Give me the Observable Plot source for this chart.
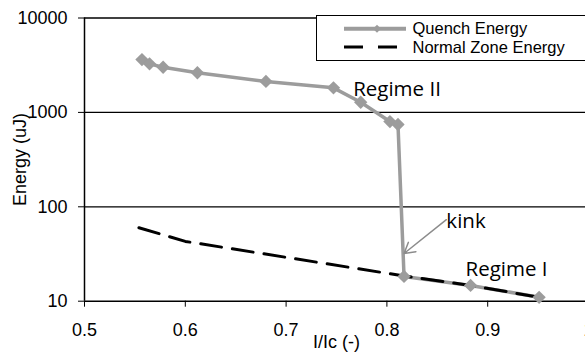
<!DOCTYPE html>
<html><head><meta charset="utf-8">
<script src="https://cdn.jsdelivr.net/npm/d3@7"></script>
<script src="https://cdn.jsdelivr.net/npm/@observablehq/plot@0.6"></script>
<style>
html,body{margin:0;padding:0;background:#fff;}
#wrap{position:relative;width:585px;height:353px;overflow:hidden;}
#legend{position:absolute;left:316px;top:15px;width:300px;height:44px;border:1px solid #000;background:#fff;}
#legend svg{position:absolute;left:0;top:0;}
</style></head><body>
<div id="wrap"><div id="legend">
<svg width="300" height="46" font-family="Liberation Sans, Arial, sans-serif" font-size="16.5">
<line x1="27" x2="89" y1="12.7" y2="12.7" stroke="#9c9c9c" stroke-width="4"/>
<path d="M60,8.7L64,12.7L60,16.7L56,12.7Z" fill="#9c9c9c"/>
<line x1="27" x2="83" y1="31" y2="31" stroke="#000" stroke-width="3" stroke-dasharray="19 15"/>
<text x="95.5" y="18.3">Quench Energy</text>
<text x="95.5" y="37.3">Normal Zone Energy</text>
</svg></div></div>
<script>
// Quench energy (uJ) vs I/Ic
const quenchX = [0.557, 0.5645, 0.578, 0.612, 0.680, 0.747, 0.774, 0.803, 0.811, 0.817, 0.883, 0.951];
const quenchY = [3630, 3270, 3010, 2630, 2130, 1820, 1280, 800, 745, 18.3, 14.7, 11.0];
// Normal zone energy (uJ)
const normalX = [0.554, 0.600, 0.817, 0.883, 0.951];
const normalY = [60, 43, 18.5, 14.7, 11.0];
// tick labels
const xTicks = [0.5, 0.6, 0.7, 0.8, 0.9, 1];
const yTicks = [10, 100, 1000, 10000];
const yGrid = [100, 1000, 10000];
// annotations (data coordinates)
const noteText = ["Regime II", "kink", "Regime I"];
const noteX = [0.7665, 0.859, 0.878];
const noteY = [1510, 60, 18.7];
const arrowFrom = {x: 0.859, y: 73};
const arrowTo = {x: 0.817, y: 32};

const quench = quenchX.map((x, i) => ({x, y: quenchY[i]}));
const normal = normalX.map((x, i) => ({x, y: normalY[i]}));
const notes = noteText.map((t, i) => ({text: t, x: noteX[i], y: noteY[i]}));

const font = "Liberation Sans, Arial, sans-serif";
const chart = Plot.plot({
  width: 600, height: 353,
  marginLeft: 84, marginRight: 12, marginTop: 17.5, marginBottom: 52.3,
  style: {fontFamily: font, fontSize: "18px", background: "white", color: "black"},
  x: {domain: [0.5, 1]},
  y: {type: "log", domain: [10, 10000]},
  marks: [
    Plot.ruleY(yGrid, {stroke: "black", strokeWidth: 1.3}),
    Plot.axisY({ticks: yTicks, tickFormat: d3.format("d"), tickSize: 6, tickPadding: 11, fontSize: 18,
      label: "Energy (uJ)", labelAnchor: "center", labelOffset: 71, labelArrow: "none", stroke: "black", strokeOpacity: 1}),
    Plot.axisX({ticks: xTicks, tickFormat: d => String(d), tickSize: 6, tickPadding: 16, fontSize: 18,
      label: "I/Ic (-)", labelAnchor: "center", labelOffset: 47, labelArrow: "none", stroke: "black", strokeOpacity: 1}),
    Plot.ruleX([0.5], {stroke: "black", strokeWidth: 1.5}),
    Plot.ruleY([10], {stroke: "black", strokeWidth: 1.5}),
    Plot.line(quench, {x: "x", y: "y", stroke: "#9c9c9c", strokeWidth: 3.5}),
    Plot.line(normal, {x: "x", y: "y", stroke: "black", strokeWidth: 3, strokeDasharray: "21 11"}),
    Plot.dot(quench, {x: "x", y: "y", symbol: "diamond2", r: 6, fill: "#9c9c9c", stroke: "none"}),
    Plot.arrow([{x1: arrowFrom.x, y1: arrowFrom.y, x2: arrowTo.x, y2: arrowTo.y}],
      {x1: "x1", y1: "y1", x2: "x2", y2: "y2", stroke: "#8c8c8c", strokeWidth: 1.5, headLength: 12}),
    Plot.text(notes, {x: "x", y: "y", text: "text", textAnchor: "start", lineAnchor: "bottom",
      fontFamily: "Open Sans", fontSize: 20.5, fill: "black"})
  ]
});
chart.style.position = "absolute";
chart.style.left = "0px";
chart.style.top = "0px";
chart.style.maxWidth = "none";
chart.style.width = "600px";
chart.style.height = "353px";
const wrap = document.getElementById("wrap");
wrap.insertBefore(chart, wrap.firstChild);
</script>
</body></html>
